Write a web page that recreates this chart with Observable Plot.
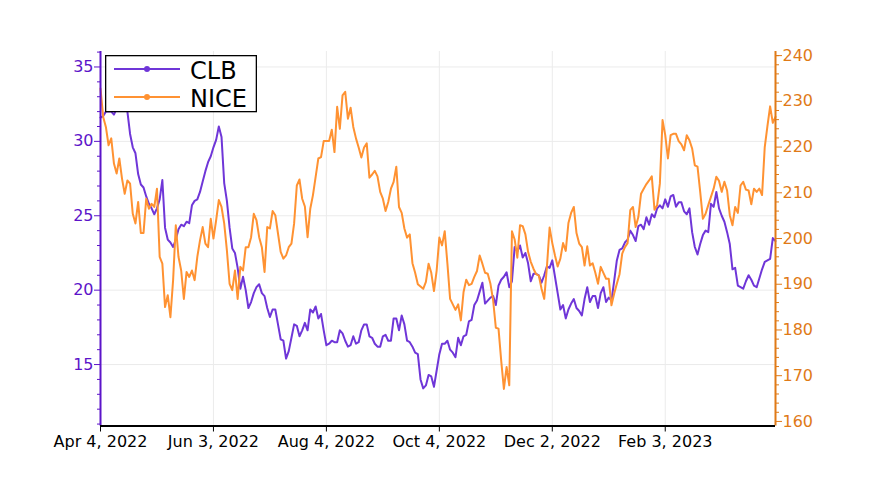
<!DOCTYPE html>
<html><head><meta charset="utf-8">
<script src="https://cdn.jsdelivr.net/npm/d3@7"></script>
<script src="https://cdn.jsdelivr.net/npm/@observablehq/plot@0.6"></script>
<style>
body{margin:0;background:#fff;font-family:"DejaVu Sans",sans-serif;}
#wrap{position:relative;width:875px;height:486px;}
#legend{position:absolute;left:105px;top:55px;}
</style></head><body><div id="wrap"></div>
<script>
const seriesNames = ["CLB", "NICE"];
const clb = [
31.6,31.7,32.0,32.0,32.0,31.8,32.2,32.4,32.6,32.4,
32.0,30.5,29.6,29.2,27.8,27.1,26.9,26.3,25.8,25.5,
25.1,25.5,26.1,27.4,24.2,23.4,23.2,22.9,23.4,24.1,
24.4,24.3,24.6,24.5,25.7,26.0,26.1,26.6,27.3,28.0,
28.6,29.0,29.6,30.1,31.0,30.3,27.2,26.0,24.2,22.8,
22.5,21.5,20.1,20.9,20.0,18.8,19.2,19.8,20.2,20.4,
19.8,19.6,18.8,18.2,18.7,18.7,17.7,16.7,16.6,15.4,
15.9,16.8,17.7,17.6,16.9,17.3,17.8,17.3,18.7,18.5,
18.9,18.1,18.4,17.3,16.3,16.4,16.6,16.5,16.5,17.3,
17.1,16.6,16.2,16.3,16.9,16.4,16.5,17.3,17.7,17.7,
16.9,16.8,16.4,16.2,16.2,16.9,17.0,16.6,16.6,18.1,
18.1,17.3,18.3,17.7,16.6,16.5,16.2,15.8,15.7,14.0,
13.4,13.6,14.3,14.2,13.5,14.6,15.7,16.4,16.4,16.6,
16.0,15.8,15.5,16.8,16.3,16.9,17.0,17.9,18.0,19.0,
19.3,19.9,20.5,19.1,19.3,19.5,19.6,19.0,20.3,20.7,
20.9,21.2,20.2,20.6,22.9,22.6,23.0,22.2,22.5,21.8,
20.6,21.1,21.1,21.0,20.5,21.0,21.6,21.5,22.0,20.9,
19.8,18.7,19.0,18.1,18.7,19.1,19.4,18.8,18.6,18.3,
19.4,20.2,19.2,19.6,19.6,18.8,19.8,20.2,19.2,19.5,
19.3,20.6,22.0,22.7,22.8,23.2,23.4,24.0,23.7,23.3,
24.3,24.4,24.1,24.9,24.4,25.1,24.9,25.5,25.7,25.5,
26.1,25.6,26.3,26.4,25.6,25.9,25.9,25.3,25.1,25.5,
23.9,22.9,22.4,23.1,23.7,24.0,23.9,25.8,25.6,26.6,
25.5,25.0,24.6,23.9,23.1,21.4,21.5,20.3,20.2,20.1,
20.6,21.0,20.7,20.3,20.2,20.8,21.4,21.9,22.0,22.1,
23.5,23.3];
const nice = [
232.8,226.6,224.4,220.4,221.9,216.4,214.2,217.5,213.1,209.8,
212.7,212.0,205.4,203.3,208.0,201.2,201.2,208.7,206.5,207.6,
206.9,210.9,196.0,194.5,185.0,187.6,182.8,190.9,202.9,196.0,
193.0,186.8,192.7,191.6,193.0,190.9,196.0,199.6,202.5,198.9,
198.1,204.3,200.0,204.0,208.4,206.9,203.3,197.4,190.1,188.7,
193.0,186.8,193.8,193.0,198.1,198.1,200.3,205.4,204.0,200.3,
198.1,192.7,202.5,202.2,206.0,205.1,201.1,197.1,195.6,196.3,
198.1,198.9,203.3,211.6,212.9,208.7,207.0,200.3,206.5,209.5,
213.5,217.5,217.8,221.3,221.3,221.3,223.8,218.9,228.8,224.0,
231.3,232.1,226.2,228.6,224.4,221.9,219.9,217.7,219.9,220.8,
213.3,214.0,214.8,213.6,210.2,208.7,206.0,208.0,210.9,212.4,
215.7,206.9,205.6,202.2,200.2,200.9,194.6,192.5,190.0,189.5,
189.0,190.5,194.5,192.5,188.5,193.0,200.2,198.5,201.6,194.5,
186.8,185.6,184.4,185.6,182.1,188.3,191.0,189.8,190.1,191.6,
192.9,196.3,194.5,192.5,192.3,190.1,186.5,180.5,180.3,173.3,
167.1,171.9,167.9,201.6,199.8,195.8,202.9,202.7,200.9,197.1,
194.9,193.4,192.2,191.9,189.0,186.8,193.8,202.4,199.0,196.3,
193.9,195.6,199.0,197.3,203.4,205.6,206.9,201.2,198.9,198.1,
194.1,198.3,194.1,194.6,192.5,190.1,193.8,192.5,191.2,191.2,
185.4,187.9,190.1,192.2,196.7,198.1,199.0,206.2,206.9,202.5,
204.7,209.8,210.9,211.9,212.7,213.6,206.3,207.3,212.0,225.9,
222.6,217.5,222.6,222.9,222.9,221.3,220.6,219.3,222.6,221.5,
219.7,216.0,215.7,210.2,204.3,205.4,207.3,209.1,210.9,213.5,
212.6,210.2,212.4,210.5,205.1,202.9,206.9,205.6,211.6,212.4,
210.7,210.5,207.5,210.9,210.2,210.9,209.5,220.0,224.6,228.9,
225.3,226.6];
const xTickIdx = [0, 42, 84, 126, 168, 210];
const xTickLabels = ["Apr 4, 2022", "Jun 3, 2022", "Aug 4, 2022", "Oct 4, 2022", "Dec 2, 2022", "Feb 3, 2023"];
const clbTicks = [15, 20, 25, 30, 35];
const clbMinor = [11,12,13,14,16,17,18,19,21,22,23,24,26,27,28,29,31,32,33,34,36];
const niceTicks = [160, 170, 180, 190, 200, 210, 220, 230, 240];
const niceMinor = [162,164,166,168,172,174,176,178,182,184,186,188,192,194,196,198,202,204,206,208,212,214,216,218,222,224,226,228,232,234,236,238,240];

const clbDomain = [10.87, 36.04];
const niceDomain = [159.0, 240.9];
const toC = v => clbDomain[0] + (v - niceDomain[0]) * (clbDomain[1] - clbDomain[0]) / (niceDomain[1] - niceDomain[0]);
const toN = c => niceDomain[0] + (c - clbDomain[0]) * (niceDomain[1] - niceDomain[0]) / (clbDomain[1] - clbDomain[0]);

const CLB_LINE = "#6f36d8", CLB_AXIS = "#5c14c9";
const NICE_LINE = "#ff9232", NICE_AXIS = "#e07a17";
const GRID = "#ebebeb";
const lastIdx = clb.length - 1;

const chart = Plot.plot({
  width: 875, height: 486,
  marginTop: 51, marginBottom: 60.5, marginLeft: 100, marginRight: 100,
  style: {fontFamily: "DejaVu Sans", background: "white", overflow: "visible"},
  x: {domain: [0, lastIdx], axis: null},
  y: {domain: clbDomain, axis: null},
  marks: [
    Plot.gridY(clbTicks, {stroke: GRID, strokeOpacity: 1, strokeWidth: 1}),
    Plot.gridX(xTickIdx, {stroke: GRID, strokeOpacity: 1, strokeWidth: 1}),
    Plot.line(clb, {x: (d, i) => i, y: d => d, stroke: CLB_LINE, strokeWidth: 2}),
    Plot.line(nice, {x: (d, i) => i, y: d => toC(d), stroke: NICE_LINE, strokeWidth: 2}),
    Plot.ruleX([0], {stroke: CLB_AXIS, strokeWidth: 2}),
    Plot.ruleX([lastIdx], {stroke: NICE_AXIS, strokeWidth: 2}),
    Plot.ruleY([clbDomain[0]], {stroke: "black", strokeWidth: 2}),
    Plot.axisY(clbTicks, {anchor: "left", tickSize: 6, tickPadding: 1, fontSize: 16, color: CLB_AXIS}),
    Plot.axisY(clbMinor, {anchor: "left", tickSize: 3, tickFormat: () => "", color: CLB_AXIS}),
    Plot.axisY(niceTicks.map(toC), {anchor: "right", tickSize: 6, tickPadding: 1, fontSize: 16, color: NICE_AXIS, tickFormat: d => String(Math.round(toN(d)))}),
    Plot.axisY(niceMinor.map(toC), {anchor: "right", tickSize: 3, tickFormat: () => "", color: NICE_AXIS}),
    Plot.axisX(xTickIdx, {anchor: "bottom", tickSize: 6, tickPadding: 4, fontSize: 16, color: "black", tickFormat: d => xTickLabels[xTickIdx.indexOf(d)]})
  ]
});
const wrap = document.getElementById("wrap");
wrap.appendChild(chart);

const legend = document.createElement("div");
legend.id = "legend";
const colors = [CLB_LINE, NICE_LINE];
let s = '<svg width="153" height="58" xmlns="http://www.w3.org/2000/svg">';
s += '<rect x="0.65" y="0.65" width="150.7" height="56" fill="white" stroke="black" stroke-width="1.3"/>';
seriesNames.forEach((name, k) => {
  const y = 14 + k * 28;
  s += `<line x1="9" x2="75" y1="${y}" y2="${y}" stroke="${colors[k]}" stroke-width="2"/>`;
  s += `<circle cx="42" cy="${y}" r="3" fill="${colors[k]}"/>`;
  s += `<text x="85" y="${y + 10}" font-family="DejaVu Sans" font-size="24" fill="black">${name}</text>`;
});
s += '</svg>';
legend.innerHTML = s;
wrap.appendChild(legend);
</script></body></html>
